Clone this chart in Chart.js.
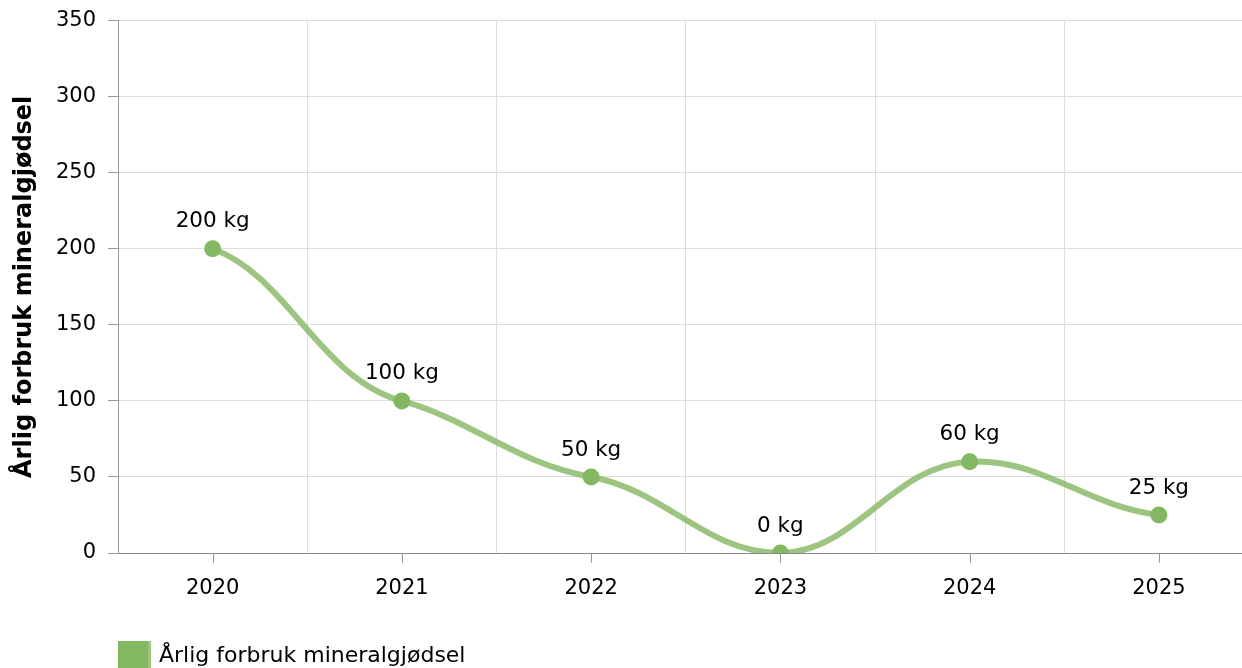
<!DOCTYPE html>
<html>
<head>
<meta charset="utf-8">
<script src="https://cdn.jsdelivr.net/npm/chart.js@4"></script>
<style>
    html, body { margin: 0; padding: 0; overflow: hidden; background: #fff; }
    #wrap { width: 1262px; height: 685px; position: relative; margin-top: -4px; }
</style>
</head>
<body>
<div id="wrap"><canvas id="chart"></canvas></div>
<script>
'use strict';

// Chart data
const years = ['2020', '2021', '2022', '2023', '2024', '2025'];
const usage = [200, 100, 50, 0, 60, 25];
const seriesName = 'Årlig forbruk mineralgjødsel';
const yTitle = 'Årlig forbruk mineralgjødsel';
const unit = 'kg';

const green = '#84b761';
const fontFamily = '"DejaVu Sans", Verdana, sans-serif';

Chart.defaults.font.family = fontFamily;
Chart.defaults.color = '#000';

// Flatten the spline a bit at each point (smaller vertical handle)
const flatSpline = {
    id: 'flatSpline',
    beforeDatasetsDraw(chart) {
        const meta = chart.getDatasetMeta(0);
        meta.dataset.updateControlPoints(chart.chartArea, 'x');
        meta.data.forEach(p => {
            p.cp1y = p.y + (p.cp1y - p.y) * 0.45;
            p.cp2y = p.y + (p.cp2y - p.y) * 0.45;
        });
    }
};

// Labels above each point
const valueLabels = {
    id: 'valueLabels',
    afterDatasetsDraw(chart) {
        const ctx = chart.ctx;
        const meta = chart.getDatasetMeta(0);
        ctx.save();
        ctx.font = '21.5px ' + fontFamily;
        ctx.fillStyle = '#000';
        ctx.textAlign = 'center';
        ctx.textBaseline = 'middle';
        meta.data.forEach((pt, i) => {
            ctx.fillText(usage[i] + ' ' + unit, pt.x, pt.y - 27);
        });
        ctx.restore();
    }
};

// Tick marks under each category (grid lines sit between categories)
const categoryTicks = {
    id: 'categoryTicks',
    afterDraw(chart) {
        const ctx = chart.ctx;
        const xScale = chart.scales.x;
        ctx.save();
        ctx.strokeStyle = '#999';
        ctx.lineWidth = 1;
        years.forEach((y, i) => {
            const x = Math.round(xScale.getPixelForValue(i)) + 0.5;
            ctx.beginPath();
            ctx.moveTo(x, xScale.top);
            ctx.lineTo(x, xScale.top + 10);
            ctx.stroke();
        });
        ctx.restore();
    }
};

new Chart(document.getElementById('chart'), {
    type: 'line',
    data: {
        labels: years,
        datasets: [{
            label: seriesName,
            data: usage,
            borderColor: 'rgba(132, 183, 97, 0.8)',
            backgroundColor: green,
            borderWidth: 6,
            tension: 0.4,
            fill: false,
            pointRadius: 8.5,
            pointHoverRadius: 8.5,
            pointBackgroundColor: green,
            pointBorderWidth: 0
        }]
    },
    options: {
        responsive: true,
        maintainAspectRatio: false,
        animation: false,
        layout: { padding: { top: 4, bottom: 0, left: 0, right: 0 } },
        scales: {
            x: {
                offset: true,
                grid: {
                    offset: true,
                    drawTicks: false,
                    color: '#dcdcdc'
                },
                border: { color: '#888' },
                ticks: { padding: 23, font: { size: 21 }, color: '#000' },
                afterFit: (s) => { s.height = 88; }
            },
            y: {
                min: 0,
                max: 350,
                ticks: { stepSize: 50, padding: 12, font: { size: 21 }, color: '#000' },
                grid: { color: '#dcdcdc', tickColor: '#999', tickLength: 10 },
                border: { color: '#999' },
                title: {
                    display: true,
                    text: yTitle,
                    font: { size: 24, weight: 'bold' },
                    color: '#000',
                    padding: { top: 10, bottom: 0 }
                },
                afterFit: (s) => { s.width = 118; }
            }
        },
        plugins: {
            legend: {
                position: 'bottom',
                align: 'start',
                fullSize: false,
                labels: {
                    boxWidth: 30,
                    boxHeight: 30,
                    padding: 0,
                    font: { size: 22 },
                    color: '#000'
                }
            },
            tooltip: { enabled: false }
        }
    },
    plugins: [flatSpline, valueLabels, categoryTicks]
});
</script>
</body>
</html>
